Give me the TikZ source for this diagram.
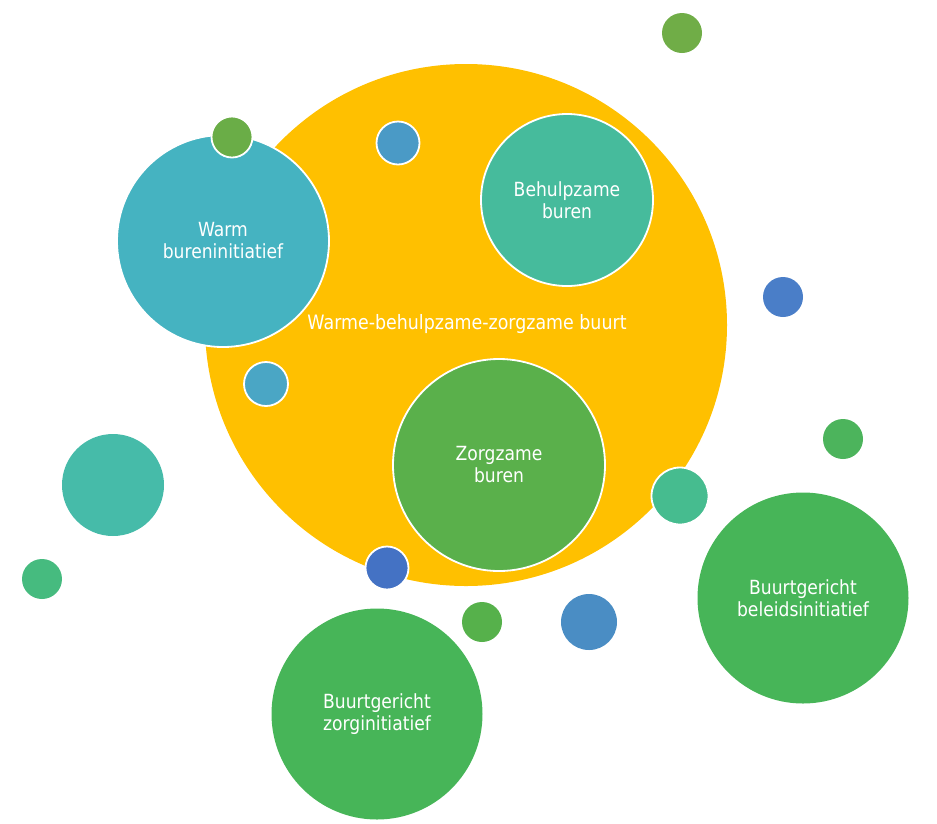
\documentclass[tikz,border=0pt]{standalone}
\usepackage{fontspec}
\setmainfont{DejaVu Sans}[FakeStretch=0.88]
\definecolor{buurtgeel}{HTML}{FFC000}
\definecolor{warmblauw}{HTML}{45B3C1}
\definecolor{hulpgroen}{HTML}{46BB9C}
\definecolor{zorggroen}{HTML}{5AB04B}
\definecolor{initgroen}{HTML}{47B558}
\begin{document}
\begin{tikzpicture}[x=1pt, y=-1pt,
    bubble/.style={circle, inner sep=0pt, minimum size=#1, draw=white, line width=1.8pt,
                   text=white, align=center, font=\fontsize{19.5}{22}\selectfont}]
                    \useasboundingbox (0,0) rectangle (937,823);
                    \node[bubble=522pt, fill=buurtgeel, draw=none] (buurt) at (466,325) {};
                    \node[bubble=212pt, fill=warmblauw] (warm) at (223,241) {Warm\\bureninitiatief};
                    \node[bubble=41pt, fill={rgb,255:red,106;green,173;blue,71}] (d1) at (232,137) {};
                    \node[bubble=43pt, fill={rgb,255:red,74;green,154;blue,198}] (d2) at (398,143) {};
                    \node[bubble=172pt, fill=hulpgroen] (hulp) at (567,200) {Behulpzame\\buren};
                    \node[bubble=44pt, fill={rgb,255:red,74;green,166;blue,197}] (d3) at (266,384) {};
                    \node[text=white, font=\fontsize{19.8}{22}\selectfont] (label) at (467,324) {Warme-behulpzame-zorgzame buurt};
                    \node[bubble=212pt, fill=zorggroen] (zorg) at (499,465) {Zorgzame\\buren};
                    \node[bubble=43pt, fill={rgb,255:red,68;green,114;blue,196}] (d4) at (387,568) {};
                    \node[bubble=57pt, fill={rgb,255:red,70;green,188;blue,143}] (d5) at (680,496) {};
                    \node[bubble=40pt, fill={rgb,255:red,112;green,173;blue,71}, draw=none] (d6) at (682,33) {};
                    \node[bubble=40pt, fill={rgb,255:red,74;green,126;blue,200}, draw=none] (d7) at (783,297) {};
                    \node[bubble=40pt, fill={rgb,255:red,76;green,180;blue,92}, draw=none] (d8) at (843,439) {};
                    \node[bubble=102pt, fill={rgb,255:red,70;green,187;blue,169}, draw=none] (d9) at (113,485) {};
                    \node[bubble=40pt, fill={rgb,255:red,70;green,187;blue,127}, draw=none] (d10) at (42,579) {};
                    \node[bubble=40pt, fill={rgb,255:red,86;green,177;blue,75}, draw=none] (d11) at (482,622) {};
                    \node[bubble=56pt, fill={rgb,255:red,74;green,141;blue,196}, draw=none] (d12) at (589,622) {};
                    \node[bubble=211pt, fill=initgroen, draw=none] (beleid) at (803,598) {Buurtgericht\\beleidsinitiatief};
                    \node[bubble=211pt, fill=initgroen, draw=none] (zorginit) at (377,714) {Buurtgericht\\zorginitiatief};
                  \end{tikzpicture}
\end{document}
